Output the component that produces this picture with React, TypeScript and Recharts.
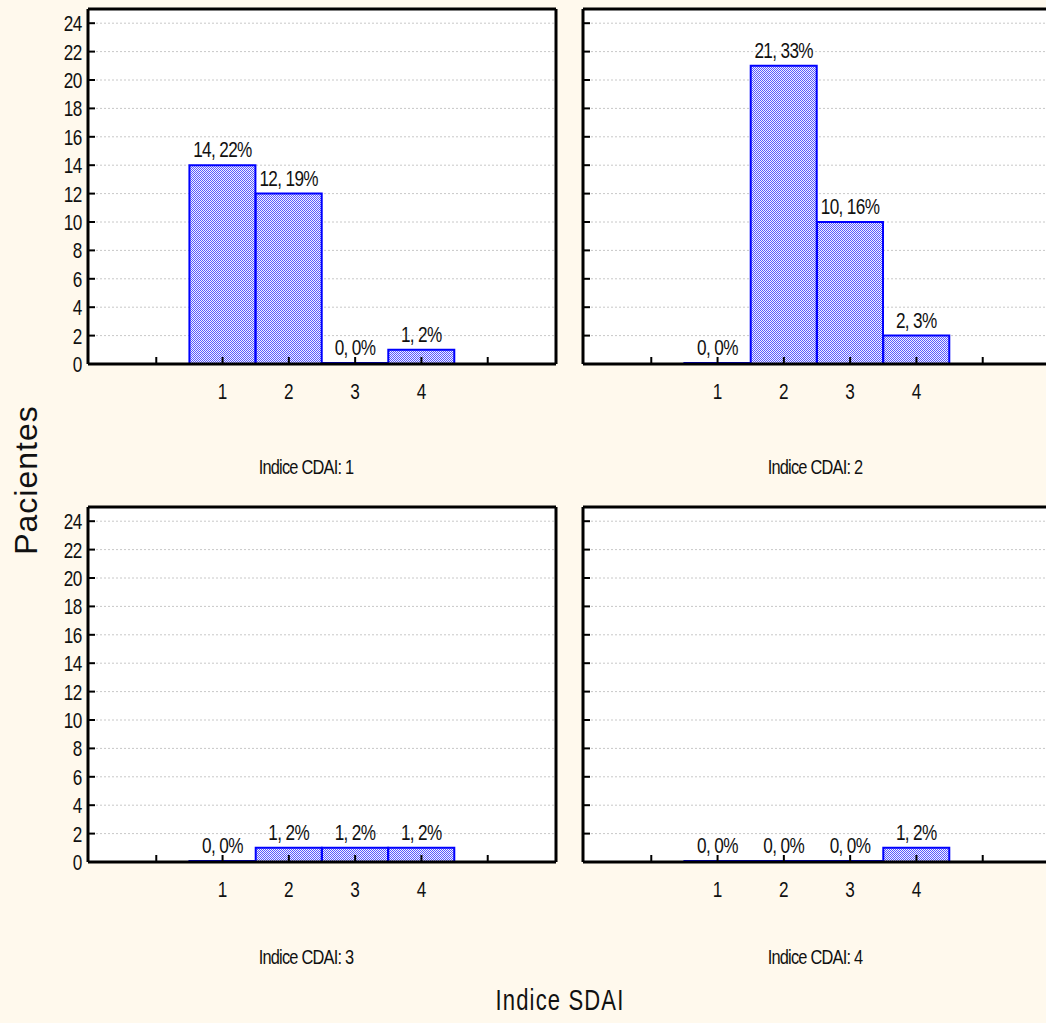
import React from 'react';
import { BarChart, Bar, XAxis, YAxis, CartesianGrid, LabelList } from 'recharts';

// SDAI categories on the x axis of every panel
const categories = [1, 2, 3, 4];
const xTicks = [0, 1, 2, 3, 4, 5];
const yTicks = [0, 2, 4, 6, 8, 10, 12, 14, 16, 18, 20, 22, 24];

const panelTitles = ['Indice CDAI: 1', 'Indice CDAI: 2', 'Indice CDAI: 3', 'Indice CDAI: 4'];

// pacientes per SDAI category, and percent of total
const cdai1Counts = [14, 12, 0, 1];
const cdai1Pct = [22, 19, 0, 2];
const cdai2Counts = [0, 21, 10, 2];
const cdai2Pct = [0, 33, 16, 3];
const cdai3Counts = [0, 1, 1, 1];
const cdai3Pct = [0, 2, 2, 2];
const cdai4Counts = [0, 0, 0, 1];
const cdai4Pct = [0, 0, 0, 2];

const FONT = "'Liberation Sans', Arial, sans-serif";
const CREAM = '#fff9ed';
const X_TICK_MARGIN = 19;
const Y_TICK_MARGIN = 6;
const SQUEEZE = 0.78; // fake a narrow face, no Arial Narrow installed

// charts sit on even pixels so the 2px checker pattern stays crisp
const panels = [
  { title: panelTitles[0], counts: cdai1Counts, pcts: cdai1Pct, left: 0, top: 0, ml: 48, titleX: 306, titleY: 466, yLabels: true },
  { title: panelTitles[1], counts: cdai2Counts, pcts: cdai2Pct, left: 494, top: 0, ml: 49, titleX: 815, titleY: 466, yLabels: false },
  { title: panelTitles[2], counts: cdai3Counts, pcts: cdai3Pct, left: 0, top: 498, ml: 48, titleX: 306, titleY: 956, yLabels: true },
  { title: panelTitles[3], counts: cdai4Counts, pcts: cdai4Pct, left: 494, top: 498, ml: 49, titleX: 815, titleY: 956, yLabels: false },
];

const NarrowText = ({ x, y, anchor, dy, size, spacing, children }: any) => (
  <text
    transform={`translate(${x},${y}) scale(${SQUEEZE},1)`}
    dy={dy}
    textAnchor={anchor}
    fill="#111"
    fontSize={size}
    fontFamily={FONT}
    letterSpacing={spacing}
  >
    {children}
  </text>
);

const BottomTick = (props: any) => {
  const { x, y, payload } = props;
  const axisY = y - X_TICK_MARGIN;
  const show = categories.includes(payload.value);
  return (
    <g>
      <line x1={x} x2={x} y1={axisY} y2={axisY - 7} stroke="#000" strokeWidth={2} />
      {show && (
        <NarrowText x={x} y={y} dy="0.72em" anchor="middle" size={22} spacing={0}>
          {payload.value}
        </NarrowText>
      )}
    </g>
  );
};

const LeftTick = (props: any) => {
  const { x, y, payload, showLabel } = props;
  const axisX = x + Y_TICK_MARGIN;
  return (
    <g>
      <line x1={axisX} x2={axisX + 7} y1={y} y2={y} stroke="#000" strokeWidth={2} />
      {showLabel && (
        <NarrowText x={x} y={y} dy="0.36em" anchor="end" size={22} spacing={-0.5}>
          {payload.value}
        </NarrowText>
      )}
    </g>
  );
};

const BarLabel = (props: any) => {
  const { x, y, width, value } = props;
  return (
    <NarrowText x={x + width / 2} y={y - 8} anchor="middle" size={22} spacing={-0.8}>
      {value}
    </NarrowText>
  );
};

const Panel = ({ idx, counts, pcts, yLabels, ml }: { idx: number; counts: number[]; pcts: number[]; yLabels: boolean; ml: number }) => {
  const data = categories.map((c, i) => ({
    sdai: c,
    count: counts[i],
    label: `${counts[i]}, ${pcts[i]}%`,
  }));
  const patId = `hatch-${idx}`;
  return (
    <BarChart width={580} height={440} data={data} margin={{ top: 9, right: 72 - ml, left: ml, bottom: 46 }} barCategoryGap={0} barGap={0}>
      <defs>
        <pattern id={patId} width={2} height={2} patternUnits="userSpaceOnUse">
          <rect width={2} height={2} fill="#f2f2ff" shapeRendering="crispEdges" />
          <rect width={1} height={1} fill="#5a5aff" shapeRendering="crispEdges" />
          <rect x={1} y={1} width={1} height={1} fill="#5a5aff" shapeRendering="crispEdges" />
        </pattern>
      </defs>
      <CartesianGrid vertical={false} stroke="#c8c8c8" strokeDasharray="2 2" fill="#fff" />
      <XAxis
        dataKey="sdai"
        type="number"
        domain={[-1.03, 6.03]}
        ticks={xTicks}
        allowDataOverflow
        height={30}
        tickSize={0}
        tickMargin={X_TICK_MARGIN}
        tickLine={false}
        tick={<BottomTick />}
        axisLine={{ stroke: '#000', strokeWidth: 3 }}
        interval={0}
      />
      <XAxis
        xAxisId="top"
        orientation="top"
        mirror
        type="number"
        domain={[-1.03, 6.03]}
        ticks={xTicks}
        allowDataOverflow
        tick={false}
        tickSize={7}
        tickLine={{ stroke: '#000', strokeWidth: 2 }}
        axisLine={{ stroke: '#000', strokeWidth: 3 }}
        interval={0}
      />
      <YAxis
        type="number"
        domain={[0, 25]}
        ticks={yTicks}
        allowDataOverflow
        width={40}
        tickSize={0}
        tickMargin={Y_TICK_MARGIN}
        tickLine={false}
        tick={<LeftTick showLabel={yLabels} />}
        axisLine={{ stroke: '#000', strokeWidth: 3 }}
        interval={0}
      />
      <YAxis
        yAxisId="right"
        orientation="right"
        mirror
        type="number"
        domain={[0, 25]}
        ticks={yTicks}
        allowDataOverflow
        tick={false}
        tickSize={7}
        tickLine={{ stroke: '#000', strokeWidth: 2 }}
        axisLine={{ stroke: '#000', strokeWidth: 3 }}
        interval={0}
      />
      <Bar
        dataKey="count"
        fill={`url(#${patId})`}
        stroke="#0000ff"
        strokeWidth={2}
        minPointSize={1}
        isAnimationActive={false}
      >
        <LabelList dataKey="label" content={<BarLabel />} />
      </Bar>
    </BarChart>
  );
};

const textBase: React.CSSProperties = {
  position: 'absolute',
  whiteSpace: 'nowrap',
  lineHeight: 1,
  color: '#111',
  fontFamily: FONT,
};

export default function App() {
  return (
    <div style={{ position: 'absolute', left: 0, top: 0, width: 1046, height: 1023, background: CREAM, overflow: 'hidden' }}>
      {panels.map((p, i) => (
        <div key={p.title} style={{ position: 'absolute', left: p.left, top: p.top }}>
          <Panel idx={i} counts={p.counts} pcts={p.pcts} yLabels={p.yLabels} ml={p.ml} />
        </div>
      ))}
      {panels.map((p) => (
        <div
          key={'t' + p.title}
          style={{
            ...textBase,
            left: p.titleX,
            top: p.titleY,
            fontSize: 21,
            letterSpacing: -1,
            transform: 'translate(-50%, -50%) scaleX(0.78)',
          }}
        >
          {p.title}
        </div>
      ))}
      <div
        style={{
          ...textBase,
          left: 560,
          top: 1000,
          fontSize: 29,
          letterSpacing: 1.5,
          transform: 'translate(-50%, -50%) scaleX(0.76)',
        }}
      >
        Indice SDAI
      </div>
      <div
        style={{
          ...textBase,
          left: 26,
          top: 480,
          transform: 'translate(-50%, -50%) rotate(-90deg)',
          fontSize: 32,
          letterSpacing: 1,
        }}
      >
        Pacientes
      </div>
    </div>
  );
}
